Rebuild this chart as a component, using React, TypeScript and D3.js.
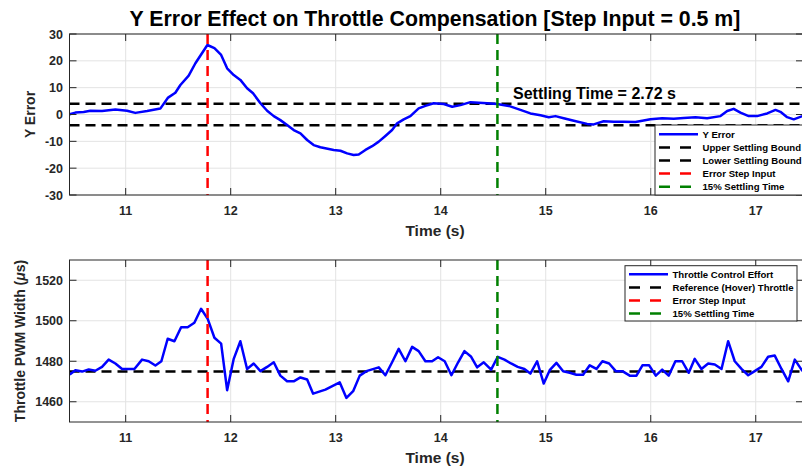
import React from "react";
import * as d3 from "d3";

const W = 802;
const H = 468;

// Y error series (time s, error)
const errTime = [10.467,10.521,10.600,10.664,10.775,10.902,11.013,11.092,11.204,11.330,11.404,11.473,11.521,11.600,11.664,11.778,11.845,11.909,11.966,12.029,12.092,12.156,12.213,12.283,12.347,12.410,12.473,12.537,12.600,12.664,12.728,12.790,12.854,12.981,13.045,13.109,13.171,13.219,13.283,13.347,13.410,13.473,13.537,13.585,13.648,13.711,13.790,13.854,13.933,14.029,14.109,14.188,14.283,14.362,14.442,14.537,14.648,14.759,14.854,14.950,15.029,15.093,15.171,15.267,15.394,15.457,15.552,15.648,15.743,15.854,15.997,16.109,16.219,16.314,16.426,16.537,16.664,16.728,16.790,16.854,16.933,17.013,17.109,17.188,17.235,17.299,17.362,17.445];
const errValue = [0.1,0.7,0.9,1.4,1.3,1.9,1.4,0.6,1.3,2.2,6.3,8.1,11.0,14.5,19.1,25.9,24.7,22.2,17.2,14.7,12.9,9.8,7.9,4.2,1.4,-0.6,-2.1,-3.9,-5.8,-7.0,-9.5,-11.4,-12.2,-13.2,-13.5,-14.5,-15.1,-14.9,-13.2,-11.8,-10.1,-8.0,-5.8,-3.3,-1.8,-0.6,2.3,3.2,4.2,3.9,2.9,3.5,4.6,4.4,4.2,3.9,3.2,1.7,0.4,-0.3,-1.0,-0.6,-1.4,-2.3,-3.5,-3.7,-2.5,-2.7,-2.7,-2.8,-1.8,-1.4,-1.6,-1.3,-1.0,-1.4,-0.6,1.3,2.1,0.7,-0.6,-0.6,0.4,1.7,1.0,-1.0,-1.8,-0.6];

// Throttle series (time s, PWM µs)
const thrTime = [10.467,10.521,10.585,10.648,10.711,10.775,10.838,10.902,10.966,11.029,11.083,11.156,11.219,11.283,11.340,11.400,11.464,11.528,11.590,11.654,11.718,11.781,11.845,11.909,11.966,12.029,12.092,12.156,12.219,12.283,12.347,12.410,12.473,12.537,12.600,12.664,12.728,12.785,12.902,13.038,13.102,13.166,13.229,13.292,13.410,13.473,13.537,13.600,13.664,13.728,13.790,13.854,13.918,13.975,14.038,14.102,14.166,14.226,14.290,14.347,14.410,14.480,14.543,14.607,14.670,14.733,14.797,14.854,14.918,14.981,15.038,15.102,15.166,15.229,15.292,15.356,15.419,15.483,15.540,15.604,15.667,15.730,15.800,15.864,15.921,15.985,16.048,16.109,16.171,16.235,16.299,16.362,16.419,16.483,16.547,16.610,16.674,16.737,16.800,16.864,16.928,16.990,17.054,17.118,17.181,17.245,17.309,17.372,17.445];
const thrValue = [1473.4,1475.6,1474.9,1475.9,1475.3,1477.2,1480.8,1478.9,1476.2,1476.2,1476.2,1480.8,1480.0,1477.9,1480.0,1491.1,1489.9,1496.8,1496.8,1499.0,1505.9,1500.9,1491.6,1488.7,1465.7,1481.2,1489.9,1476.2,1478.9,1475.1,1477.2,1479.5,1472.9,1470.1,1470.1,1472.0,1471.0,1464.0,1466.0,1469.6,1461.9,1465.2,1472.9,1475.1,1477.0,1473.1,1479.5,1486.1,1480.0,1487.1,1485.0,1480.0,1480.0,1482.0,1480.0,1473.1,1479.5,1485.0,1482.2,1477.0,1479.5,1475.9,1482.2,1480.8,1478.9,1477.2,1476.2,1473.9,1480.0,1469.0,1475.6,1479.2,1475.1,1474.3,1473.3,1473.3,1478.0,1476.2,1480.0,1478.9,1475.1,1475.1,1472.9,1472.9,1478.0,1478.0,1472.9,1475.9,1472.9,1480.0,1480.0,1474.3,1481.2,1476.2,1478.9,1478.4,1476.2,1489.9,1480.0,1476.2,1473.1,1475.1,1477.2,1482.2,1482.8,1476.2,1470.1,1480.8,1475.1];

const xTicks = [11, 12, 13, 14, 15, 16, 17];
const errTicks = [30, 20, 10, 0, -10, -20, -30];
const thrTicks = [1460, 1480, 1500, 1520];

const settlingBound = 4;
const hoverThrottle = 1475;
const stepTime = 11.78;
const settleTime = 14.54;
const settlingLabel = "Settling Time = 2.72 s";
const titleText = "Y Error Effect on Throttle Compensation [Step Input = 0.5 m]";
const legendTop = ["Y Error", "Upper Settling Bound", "Lower Settling Bound", "Error Step Input", "15% Settling Time"];
const legendBottom = ["Throttle Control Effort", "Reference (Hover) Throttle", "Error Step Input", "15% Settling Time"];

const FONT = "'Liberation Sans', Arial, Helvetica, sans-serif";
const AX = "#262626";
const GRID = "#e3e3e3";
const BLUE = "#0000ff";
const RED = "#ff0000";
const GREEN = "#008000";
const DASH = "10,6";

const x = d3.scaleLinear().domain([10.465, 17.45]).range([69.5, 803]);
const yTop = d3.scaleLinear().domain([-30, 30]).range([195, 34]);
const yBot = d3.scaleLinear().domain([1450, 1530]).range([422, 260]);

function Axes({ y, yTicks, id }: { y: d3.ScaleLinear<number, number>; yTicks: number[]; id: string }) {
  const [x0, x1] = x.range();
  const [yb, yt] = y.range();
  return (
    <g>
      <defs>
        <clipPath id={id}>
          <rect x={x0} y={yt} width={x1 - x0} height={yb - yt} />
        </clipPath>
      </defs>
      <rect x={x0} y={yt} width={x1 - x0} height={yb - yt} fill="#fff" />
      {xTicks.map((t) => (
        <line key={"gx" + t} x1={x(t)} x2={x(t)} y1={yt} y2={yb} stroke={GRID} strokeWidth={1} />
      ))}
      {yTicks.map((t) => (
        <line key={"gy" + t} x1={x0} x2={x1} y1={y(t)} y2={y(t)} stroke={GRID} strokeWidth={1} />
      ))}
    </g>
  );
}

function Frame({ y, yTicks }: { y: d3.ScaleLinear<number, number>; yTicks: number[] }) {
  const [x0, x1] = x.range();
  const [yb, yt] = y.range();
  const tl = 7;
  return (
    <g>
      <rect x={x0} y={yt} width={x1 - x0} height={yb - yt} fill="none" stroke={AX} strokeWidth={1} />
      {xTicks.map((t) => (
        <g key={"tx" + t}>
          <line x1={x(t)} x2={x(t)} y1={yb} y2={yb - tl} stroke={AX} />
          <line x1={x(t)} x2={x(t)} y1={yt} y2={yt + tl} stroke={AX} />
          <text x={x(t)} y={yb + 20} textAnchor="middle" fontSize={12.5} fontWeight="bold" fill={AX} fontFamily={FONT}>
            {t}
          </text>
        </g>
      ))}
      {yTicks.map((t) => (
        <g key={"ty" + t}>
          <line x1={x0} x2={x0 + tl} y1={y(t)} y2={y(t)} stroke={AX} />
          <line x1={x1} x2={x1 - tl} y1={y(t)} y2={y(t)} stroke={AX} />
          <text x={63} y={y(t)} dy="0.36em" textAnchor="end" fontSize={12.5} fontWeight="bold" fill={AX} fontFamily={FONT}>
            {t}
          </text>
        </g>
      ))}
    </g>
  );
}

function Legend({ x0, y0, w, h, items, colors, solidFirst, sx0, sx1, tx, rowY }: any) {
  return (
    <g>
      <rect x={x0} y={y0} width={w} height={h} fill="#fff" stroke={AX} strokeWidth={1} />
      {items.map((label: string, i: number) => {
        const yy = rowY[i];
        return (
          <g key={label + i}>
            {i === 0 && solidFirst ? (
              <line x1={sx0} x2={sx1} y1={yy} y2={yy} stroke={colors[i]} strokeWidth={2.5} />
            ) : (
              <line x1={sx0} x2={sx1} y1={yy} y2={yy} stroke={colors[i]} strokeWidth={2.5} strokeDasharray="11,10" />
            )}
            <text x={tx} y={yy} dy="0.35em" fontSize={9.6} fontWeight="bold" fill="#000" fontFamily={FONT}>
              {label}
            </text>
          </g>
        );
      })}
    </g>
  );
}

export default function App() {
  const errPts: [number, number][] = errTime.map((t, i) => [t, errValue[i]]);
  const thrPts: [number, number][] = thrTime.map((t, i) => [t, thrValue[i]]);
  const lineTop = d3.line<[number, number]>().x((d) => x(d[0])).y((d) => yTop(d[1]));
  const lineBot = d3.line<[number, number]>().x((d) => x(d[0])).y((d) => yBot(d[1]));
  const [x0, x1] = x.range();

  return (
    <div style={{ position: "absolute", left: 0, top: 0, width: W, height: H, background: "#fff" }}>
      <svg width={W} height={H} style={{ display: "block" }}>
        <rect width={W} height={H} fill="#fff" />
        <text x={435} y={25.5} textAnchor="middle" fontSize={21.3} fontWeight="bold" fill="#000" fontFamily={FONT}>
          {titleText}
        </text>

        {/* Top axes */}
        <Axes y={yTop} yTicks={errTicks} id="clipTop" />
        <g clipPath="url(#clipTop)">
          <line x1={x0} x2={x1} y1={yTop(settlingBound)} y2={yTop(settlingBound)} stroke="#000" strokeWidth={2.5} strokeDasharray={DASH} />
          <line x1={x0} x2={x1} y1={yTop(-settlingBound)} y2={yTop(-settlingBound)} stroke="#000" strokeWidth={2.5} strokeDasharray={DASH} />
          <path d={lineTop(errPts) || ""} fill="none" stroke={BLUE} strokeWidth={2.5} strokeLinejoin="round" />
          <line x1={x(stepTime)} x2={x(stepTime)} y1={yTop(30)} y2={yTop(-30)} stroke={RED} strokeWidth={2.5} strokeDasharray={DASH} />
          <line x1={x(settleTime)} x2={x(settleTime)} y1={yTop(30)} y2={yTop(-30)} stroke={GREEN} strokeWidth={2.5} strokeDasharray={DASH} />
        </g>
        <text x={513} y={98.5} fontSize={16} fontWeight="bold" fill="#000" fontFamily={FONT}>
          {settlingLabel}
        </text>
        <Frame y={yTop} yTicks={errTicks} />
        <Legend
          x0={655} y0={125} w={150} h={70}
          items={legendTop}
          colors={[BLUE, "#000", "#000", RED, GREEN]}
          solidFirst={true}
          sx0={659} sx1={698} tx={702.5}
          rowY={[134.3, 147.4, 160.5, 173.6, 186.7]}
        />
        <text x={435} y={236} textAnchor="middle" fontSize={15.5} fontWeight="bold" fill={AX} fontFamily={FONT}>
          Time (s)
        </text>
        <text transform={`translate(30,${yTop(0)}) rotate(-90)`} textAnchor="middle" dy="0.35em" fontSize={14} fontWeight="bold" fill={AX} fontFamily={FONT}>
          Y Error
        </text>

        {/* Bottom axes */}
        <Axes y={yBot} yTicks={thrTicks} id="clipBot" />
        <g clipPath="url(#clipBot)">
          <line x1={x0} x2={x1} y1={yBot(hoverThrottle)} y2={yBot(hoverThrottle)} stroke="#000" strokeWidth={2.5} strokeDasharray={DASH} />
          <path d={lineBot(thrPts) || ""} fill="none" stroke={BLUE} strokeWidth={2.5} strokeLinejoin="round" />
          <line x1={x(stepTime)} x2={x(stepTime)} y1={yBot(1530)} y2={yBot(1450)} stroke={RED} strokeWidth={2.5} strokeDasharray={DASH} />
          <line x1={x(settleTime)} x2={x(settleTime)} y1={yBot(1530)} y2={yBot(1450)} stroke={GREEN} strokeWidth={2.5} strokeDasharray={DASH} />
        </g>
        <Frame y={yBot} yTicks={thrTicks} />
        <Legend
          x0={625} y0={265.7} w={172} h={55.3}
          items={legendBottom}
          colors={[BLUE, "#000", RED, GREEN]}
          solidFirst={true}
          sx0={629} sx1={668} tx={672.5}
          rowY={[274.3, 287.4, 300.4, 313.4]}
        />
        <text x={435} y={463} textAnchor="middle" fontSize={15.5} fontWeight="bold" fill={AX} fontFamily={FONT}>
          Time (s)
        </text>
        <text transform={`translate(20.5,${(260 + 422) / 2}) rotate(-90)`} textAnchor="middle" dy="0.35em" fontSize={14} fontWeight="bold" fill={AX} fontFamily={FONT}>
          Throttle PWM Width (<tspan fontStyle="italic">μ</tspan>s)
        </text>
      </svg>
    </div>
  );
}
